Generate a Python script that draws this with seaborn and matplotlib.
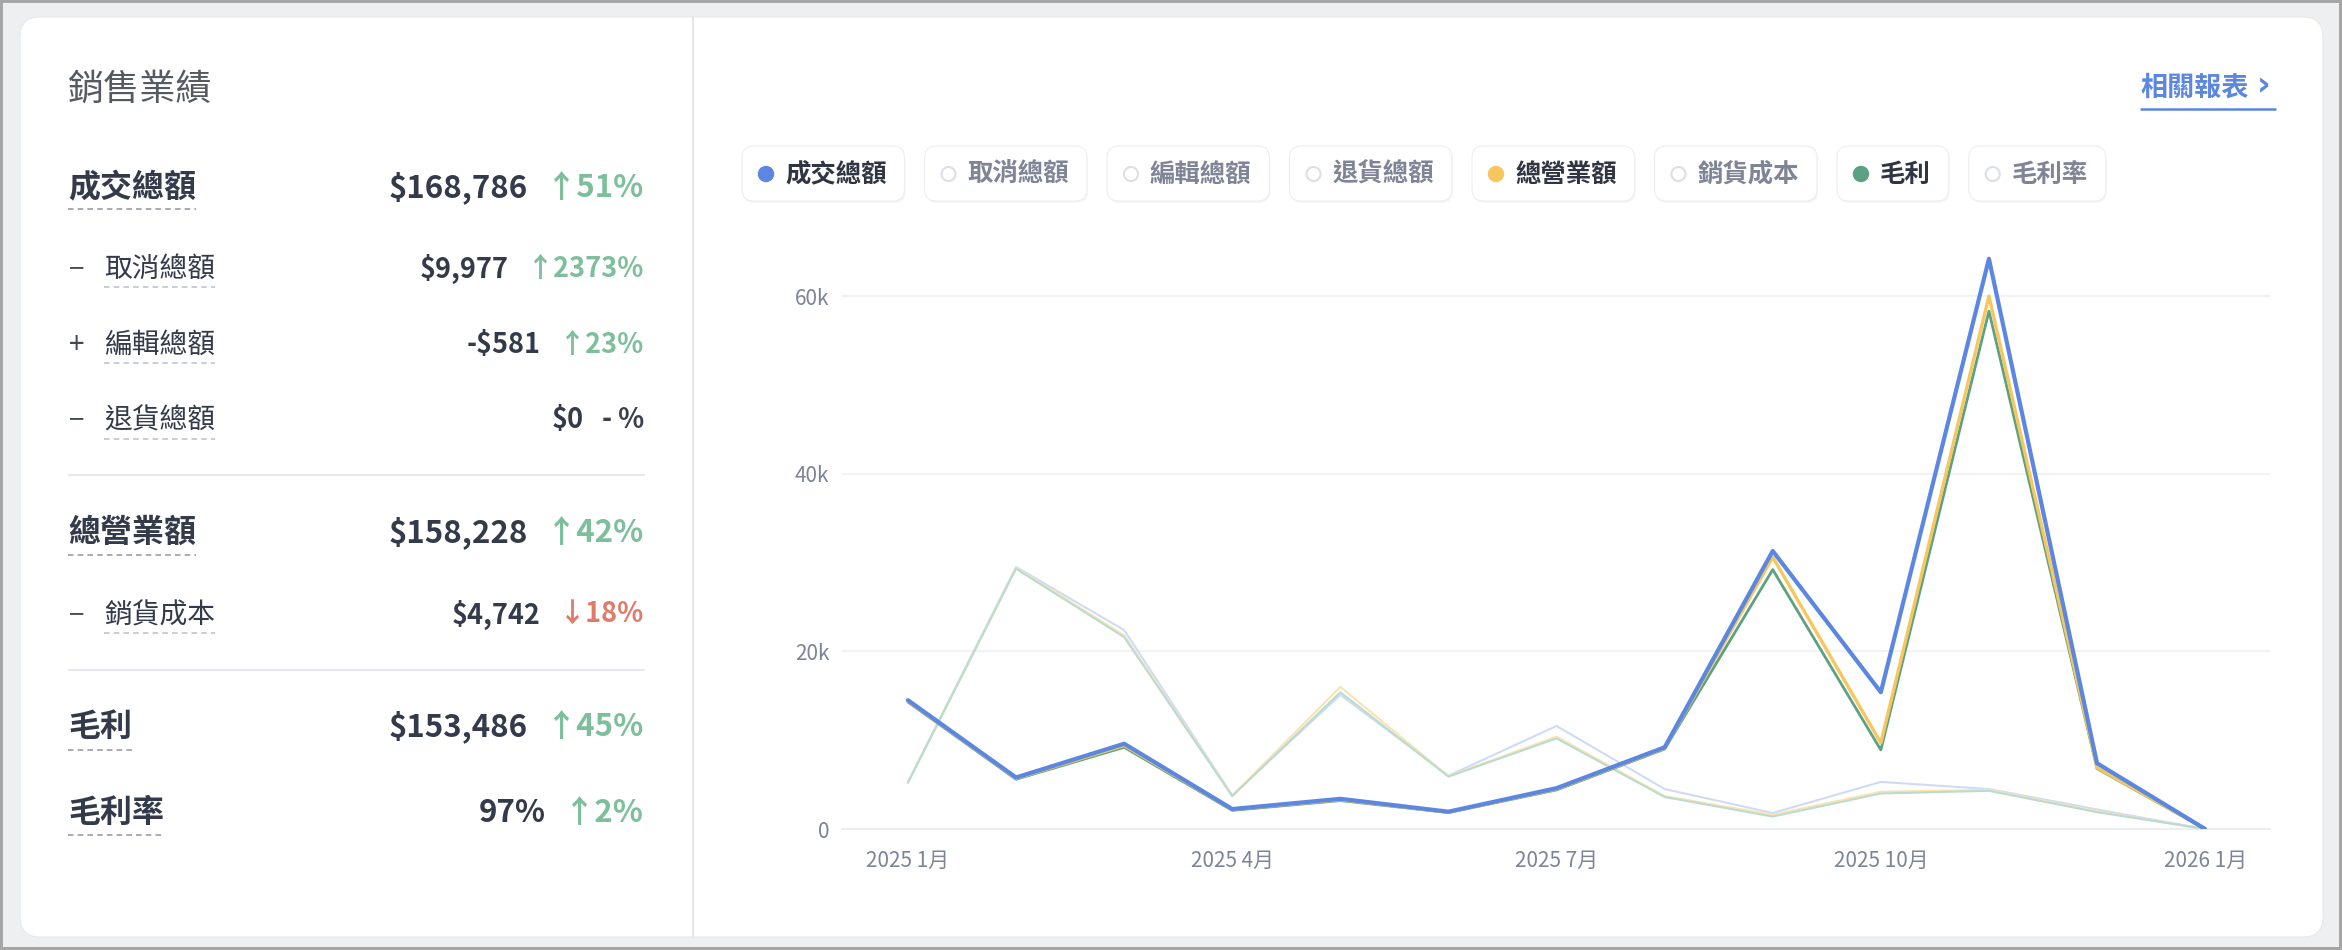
import matplotlib
matplotlib.use('Agg')
import matplotlib.pyplot as plt
import seaborn as sns
import pandas as pd
import numpy as np
from matplotlib.patches import FancyBboxPatch, Rectangle, Circle

# ---------------- data ----------------
months = ['2025-01', '2025-02', '2025-03', '2025-04', '2025-05', '2025-06', '2025-07',
          '2025-08', '2025-09', '2025-10', '2025-11', '2025-12', '2026-01']
tick_pos = [0, 3, 6, 9, 12]
tick_labels = ['2025 1月', '2025 4月', '2025 7月', '2025 10月', '2026 1月']
y_ticks = [0, 20000, 40000, 60000]
y_tick_labels = ['0', '20k', '40k', '60k']

gmv = [14500, 5800, 9600, 2250, 3400, 1950, 4600, 9200, 31300, 15400, 64200, 7400, 0]
revenue = [14400, 5700, 9400, 2200, 3300, 1900, 4500, 9100, 30600, 9700, 60000, 6900, 0]
gross_profit = [14300, 5600, 9200, 2100, 3200, 1850, 4400, 9000, 29200, 8900, 58300, 6800, 0]
gmv_prev = [5300, 29500, 22400, 3800, 15100, 6000, 11600, 4500, 1800, 5300, 4500, 2200, 0]
revenue_prev = [5250, 29400, 21800, 3750, 16000, 5950, 10400, 3700, 1600, 4200, 4400, 2000, 0]
gross_profit_prev = [5200, 29300, 21600, 3700, 15400, 5900, 10200, 3600, 1400, 4000, 4300, 1900, 0]

legend_names = ['成交總額', '取消總額', '編輯總額', '退貨總額', '總營業額', '銷貨成本', '毛利', '毛利率']
legend_active = [True, False, False, False, True, False, True, False]

row_labels = ['成交總額', '取消總額', '編輯總額', '退貨總額', '總營業額', '銷貨成本', '毛利', '毛利率']
row_signs = ['', '−', '+', '−', '', '−', '', '']
row_values = ['$168,786', '$9,977', '-$581', '$0', '$158,228', '$4,742', '$153,486', '97%']
row_changes = ['↑51%', '↑2373%', '↑23%', '- %', '↑42%', '↓18%', '↑45%', '↑2%']

# ---------------- styles ----------------
BLUE = '#5b87e2'
ORANGE = '#f8c65e'
GREEN = '#5ca282'
BLUE_L = '#cfdbf6'
ORANGE_L = '#fbe3b0'
GREEN_L = '#b9dccf'
legend_colors = [BLUE, None, None, None, ORANGE, None, GREEN, None]
TXT = '#333a4a'
UP = '#7dbf9b'
DOWN = '#e07a6b'

sns.set_theme(style='white')
FAM = ['Noto Sans CJK TC', 'DejaVu Sans']
plt.rcParams['font.family'] = FAM
plt.rcParams['lines.scale_dashes'] = False

W, H = 2342, 950
fig = plt.figure(figsize=(W / 100, H / 100), dpi=100, facecolor='#a6a6a6')
bg = fig.add_axes([0, 0, 1, 1])
bg.set_xlim(0, W)
bg.set_ylim(H, 0)
bg.axis('off')
bg.set_zorder(0)
bg.add_patch(Rectangle((3, 3), W - 6, H - 6, fc='#eeeff1', ec='none'))
bg.add_patch(FancyBboxPatch((20, 17), 2303, 920, boxstyle='round,pad=0,rounding_size=20',
                            fc='white', ec='#e6e8ec', lw=0.8))
bg.plot([693, 693], [17, 937], color='#e4e6ec', lw=1.6, solid_capstyle='butt')

renderer = fig.canvas.get_renderer()


def extent(t):
    bb = t.get_window_extent(renderer=renderer)
    return bb.x0, bb.x1


# ---------------- left panel ----------------
bg.text(68, 90, '銷售業績', fontsize=26, color='#555a62', va='center')

row_y = [188, 269, 345, 420, 533, 615, 727, 813]
line_y = [209, 287, 363, 439, 555, 633, 750, 835]
RIGHT = 644
for i in range(len(row_labels)):
    main = row_signs[i] == ''
    fs = 23 if main else 20
    vfs = 22.5 if main else 19.5
    if main:
        lt = bg.text(68, row_y[i], row_labels[i], fontsize=fs, fontweight='bold', color=TXT, va='center')
    else:
        bg.text(69, row_y[i], row_signs[i], fontsize=20, color='#444a55', va='center')
        lt = bg.text(104, row_y[i], row_labels[i], fontsize=fs, color=TXT, va='center')
    x0, x1 = extent(lt)
    bg.plot([x0, x1], [line_y[i], line_y[i]], color='#a2a4ad' if main else '#c6c9d6',
            lw=1.3, dashes=(4, 3))
    ch = row_changes[i]
    col = UP if ch.startswith('↑') else (DOWN if ch.startswith('↓') else '#3a3f4b')
    ct = bg.text(RIGHT, row_y[i], ch, fontsize=vfs, fontweight='bold', color=col,
                 ha='right', va='center')
    c0, _ = extent(ct)
    bg.text(c0 - 18, row_y[i], row_values[i], fontsize=vfs, fontweight='bold', color=TXT,
            ha='right', va='center')

for sy in [475, 670]:
    bg.plot([69, 644], [sy, sy], color='#e6e8ee', lw=1.5)

# ---------------- legend chips ----------------
cx = 742
for name, active, colr in zip(legend_names, legend_active, legend_colors):
    t = bg.text(cx + 43, 174, name, fontsize=18.3, fontweight='bold',
                color='#2f3542' if active else '#7f8597', va='center', zorder=5)
    a, b = extent(t)
    w = 43 + (b - a) + 18
    bg.add_patch(FancyBboxPatch((cx + 1, 148), w, 55, boxstyle='round,pad=0,rounding_size=12',
                                fc='#f4f5f7', ec='none', zorder=2))
    bg.add_patch(FancyBboxPatch((cx, 146), w, 55, boxstyle='round,pad=0,rounding_size=12',
                                fc='white', ec='#eceef2', lw=0.8, zorder=3))
    if active:
        bg.add_patch(Circle((cx + 24, 174), 7.5, fc=colr, ec=colr, lw=1, zorder=4))
    else:
        bg.add_patch(Circle((cx + 24, 174), 7, fc='white', ec='#dcdfe7', lw=1.5, zorder=4))
    cx += w + 20

# link
lk = bg.text(2140, 88, '相關報表', fontsize=19.5, fontweight='bold', color=BLUE, va='center')
_, lx1 = extent(lk)
bg.text(lx1 + 8, 86, '›', fontsize=24, fontweight='bold', color=BLUE, va='center',
        family=['DejaVu Sans'])
bg.plot([2140, 2276], [109, 109], color=BLUE, lw=1.8, solid_capstyle='butt')

# ---------------- chart ----------------
ax = fig.add_axes([842 / W, 121 / H, (2270 - 842) / W, (829 - 225) / H])
ax.set_zorder(2)
ax.patch.set_alpha(0)
x = np.arange(len(months))
df = pd.DataFrame({'x': x, 'gmv': gmv, 'revenue': revenue, 'gp': gross_profit,
                   'gmv_prev': gmv_prev, 'revenue_prev': revenue_prev, 'gp_prev': gross_profit_prev})

ax.set_yticks(y_ticks)
ax.set_yticklabels(y_tick_labels)
ax.yaxis.grid(True, color='#f1f2f4', lw=1.5, zorder=0)
ax.xaxis.grid(False)

series = [('gmv_prev', BLUE_L, 1.5), ('revenue_prev', ORANGE_L, 1.5), ('gp_prev', GREEN_L, 1.5),
          ('gp', GREEN, 2.0), ('revenue', ORANGE, 2.4), ('gmv', BLUE, 3.0)]
for z, (col, c, lw) in enumerate(series):
    sns.lineplot(data=df, x='x', y=col, ax=ax, color=c, lw=lw, zorder=3 + z, legend=False)

ax.set_xlim(-0.61, 12.6)
ax.set_ylim(0, 68000)
ax.set_xlabel('')
ax.set_ylabel('')
ax.set_xticks([-0.61] + tick_pos + [12.6])
ax.set_xticklabels([''] + tick_labels + [''])
for s in ['top', 'right', 'left']:
    ax.spines[s].set_visible(False)
ax.spines['bottom'].set_color('#eceef2')
ax.spines['bottom'].set_linewidth(1.5)
ax.tick_params(axis='y', length=0, pad=9, labelsize=15, labelcolor='#7d8499')
ax.tick_params(axis='x', direction='in', length=8, width=1.2, color='#eceef2', pad=15,
               labelsize=15, labelcolor='#7d8499')

fig.savefig('out.png', dpi=100, facecolor=fig.get_facecolor())
